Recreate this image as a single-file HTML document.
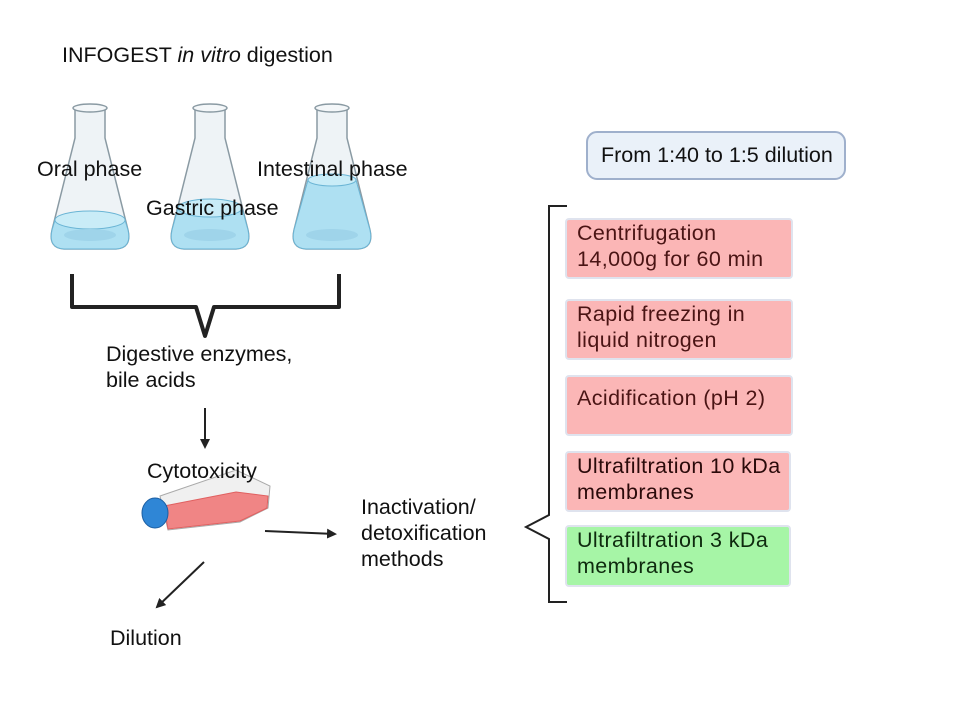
<!DOCTYPE html>
<html><head><meta charset="utf-8"><style>
body{margin:0;width:960px;height:720px;background:#fff;position:relative;overflow:hidden;font-family:"Liberation Sans",sans-serif;}
.t{position:absolute;font-size:21.5px;color:#111;white-space:nowrap;line-height:26px}
.b{position:absolute;left:565px;width:228px;background:#fbb6b6;border:2px solid #dfe3ee;border-radius:4px;box-sizing:border-box;color:#4a1414;font-size:21.5px;letter-spacing:0.4px;line-height:26px;padding:0 0 0 10px;white-space:nowrap;overflow:hidden}
</style></head><body>
<svg width="960" height="720" style="position:absolute;left:0;top:0">
<defs>
<g id="fl">
<path d="M-15,0 L-15,30 L-38,122 Q-42,140 -26,141 L26,141 Q42,140 38,122 L15,30 L15,0 Z" fill="#eef3f6" stroke="#8a9aa3" stroke-width="1.5"/>
<ellipse cx="0" cy="0" rx="17" ry="4" fill="#f4f7f9" stroke="#8a9aa3" stroke-width="1.5"/>
</g>
<marker id="a" markerWidth="10" markerHeight="10" refX="8" refY="5" orient="auto" markerUnits="userSpaceOnUse"><path d="M0,0 L10,5 L0,10 Z" fill="#222"/></marker>
</defs>
<g transform="translate(90,108)"><use href="#fl"/><path d="M-35,112 L35,112 L38,122 Q42,140 26,141 L-26,141 Q-42,140 -38,122 Z" fill="#aee0f2" stroke="#6bb5d5"/><ellipse cx="0" cy="112" rx="35" ry="9" fill="#c9ecf7" stroke="#6bb5d5"/><ellipse cx="0" cy="127" rx="26" ry="6" fill="#9fd4ea"/></g>
<g transform="translate(210,108)"><use href="#fl"/><path d="M-32,100 L32,100 L38,122 Q42,140 26,141 L-26,141 Q-42,140 -38,122 Z" fill="#aee0f2" stroke="#6bb5d5"/><ellipse cx="0" cy="100" rx="32" ry="9" fill="#c9ecf7" stroke="#6bb5d5"/><ellipse cx="0" cy="127" rx="26" ry="6" fill="#9fd4ea"/></g>
<g transform="translate(332,108)"><use href="#fl"/><path d="M-24,72 L24,72 L38,122 Q42,140 26,141 L-26,141 Q-42,140 -38,122 Z" fill="#aee0f2" stroke="#6bb5d5"/><ellipse cx="0" cy="72" rx="24" ry="6" fill="#c9ecf7" stroke="#6bb5d5"/><ellipse cx="0" cy="127" rx="26" ry="6" fill="#9fd4ea"/></g>
<path d="M72,274 L72,307 L196,307 L205,336 L214,307 L339,307 L339,274" fill="none" stroke="#222" stroke-width="4" stroke-linejoin="round"/>
<g>
<path d="M160,496 L236,470 L270,486 L268,508 L240,522 L168,530 Z" fill="#f0f0f0" stroke="#aaa"/>
<path d="M164,506 L236,492 L268,496 L267,508 L240,521 L168,529 Z" fill="#f08585" stroke="#e06060"/>
<ellipse cx="155" cy="513" rx="13" ry="15" fill="#2f86d6" stroke="#1c5fa3"/>
</g>
<line x1="205" y1="408" x2="205" y2="447" stroke="#222" stroke-width="2" marker-end="url(#a)"/>
<line x1="265" y1="531" x2="335" y2="534" stroke="#222" stroke-width="2" marker-end="url(#a)"/>
<line x1="204" y1="562" x2="157" y2="607" stroke="#222" stroke-width="2" marker-end="url(#a)"/>
<path d="M567,206 L549,206 L549,515 L526,527 L549,539 L549,602 L567,602" fill="none" stroke="#222" stroke-width="2"/>
<rect x="587" y="132" width="258" height="47" rx="10" fill="#eaf1f9" stroke="#9fb0cc" stroke-width="2"/>
</svg>
<div class="t" style="left:62px;top:42px">INFOGEST <i>in vitro</i> digestion</div>
<div class="t" style="left:37px;top:156px">Oral phase</div>
<div class="t" style="left:146px;top:195px">Gastric phase</div>
<div class="t" style="left:257px;top:156px">Intestinal phase</div>
<div class="t" style="left:106px;top:341px">Digestive enzymes,<br>bile acids</div>
<div class="t" style="left:147px;top:458px">Cytotoxicity</div>
<div class="t" style="left:110px;top:625px">Dilution</div>
<div class="t" style="left:361px;top:494px">Inactivation/<br>detoxification<br>methods</div>
<div class="t" style="left:601px;top:142px">From 1:40 to 1:5 dilution</div>
<div class="b" style="top:218px;height:61px">Centrifugation<br>14,000g for 60 min</div>
<div class="b" style="top:299px;height:61px">Rapid freezing in<br>liquid nitrogen</div>
<div class="b" style="top:375px;height:61px;padding-top:8px">Acidification (pH 2)</div>
<div class="b" style="top:451px;height:61px;width:226px;color:#2a0a0a">Ultrafiltration 10 kDa<br>membranes</div>
<div class="b" style="top:525px;height:62px;width:226px;background:#a6f5a6;color:#0e2a0e">Ultrafiltration 3 kDa<br>membranes</div>
</body></html>
